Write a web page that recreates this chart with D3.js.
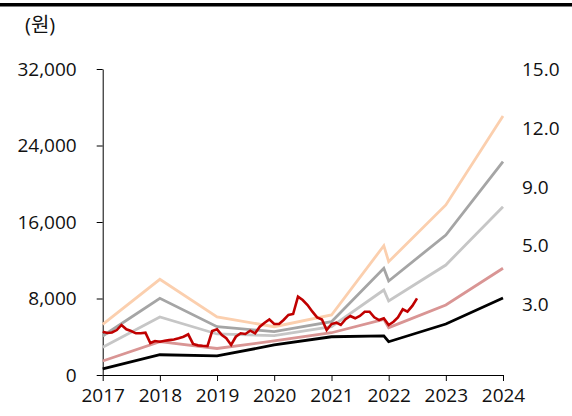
<!DOCTYPE html>
<html><head><meta charset="utf-8">
<script src="https://cdn.jsdelivr.net/npm/d3@7"></script>
<style>body{margin:0;background:#fff} svg{display:block}</style>
</head><body>
<svg id="c" width="572" height="416"></svg>
<script>
// ---- data ----
const yTicks = [0, 8000, 16000, 24000, 32000];
const years = [2017, 2018, 2019, 2020, 2021, 2022, 2023, 2024];
const bandLabels = ["15.0", "12.0", "9.0", "5.0", "3.0"];
const bandDates = ["2017-01", "2018-01", "2019-01", "2020-01", "2021-01", "2021-12", "2022-01", "2023-01", "2024-01"];
const bandA = [5300, 10010, 6070, 5050, 6275, 13520, 11850, 17780, 27090];
const bandB = [4080, 8020, 5050, 4530, 5575, 11160, 9830, 14640, 22310];
const bandC = [2900, 6070, 4290, 4110, 5050, 8890, 7740, 11500, 17600];
const bandD = [1460, 3480, 2770, 3560, 4420, 5820, 4950, 7320, 11160];
const bandE = [630, 2120, 1990, 3140, 4000, 4100, 3480, 5330, 8050];
const priceStart = "2017-01";
const priceValues = [
  4530, 4400, 4450, 4700, 5230, 4780, 4600, 4360, 4360, 4420, 3350, 3550,
  3480, 3590, 3650, 3720, 3850, 4000, 4250, 3250, 3100, 3060, 3030, 4600,
  4780, 4180, 3840, 3140, 4000, 4360, 4290, 4630, 4360, 5050, 5470, 5820,
  5330, 5330, 5750, 6280, 6380, 8190, 7840, 7320, 6620, 6030, 5800, 4710,
  5330, 5470, 5230, 5830, 6170, 5930, 6170, 6620, 6620, 6030, 5750, 5930,
  5230, 5570, 6030, 6870, 6620, 7220, 8020
];

// ---- chart ----
const svg = d3.select("#c");
const font = "'Open Sans','Noto Sans CJK KR',sans-serif";
const parse = d3.timeParse("%Y-%m");
const x = d3.scaleTime().domain([new Date(2017,0,1), new Date(2024,0,1)]).range([102.7, 503]);
const y = d3.scaleLinear().domain([0, 32000]).range([375, 69]);

// top bar
svg.append("rect").attr("x",0).attr("y",3).attr("width",572).attr("height",3.5).attr("fill","#000");

svg.append("text").attr("x",25).attr("y",24).attr("dominant-baseline","central")
  .attr("font-family",font).attr("font-size",20).attr("fill","#111").text("(원)");

const yAxis = svg.append("g").attr("transform","translate(102.7,0)")
  .call(d3.axisLeft(y).tickValues(yTicks).tickFormat(d3.format(",")).tickSize(6).tickSizeOuter(0).tickPadding(20));
yAxis.selectAll("text").attr("font-family",font).attr("font-size",19).attr("fill","#111");
yAxis.selectAll("line,path").attr("stroke","#000");

const xAxis = svg.append("g").attr("transform","translate(0,375)")
  .call(d3.axisBottom(x).tickValues(years.map(v=>new Date(v,0,1))).tickFormat(d3.timeFormat("%Y")).tickSize(6).tickSizeOuter(0).tickPadding(8));
xAxis.selectAll("text").attr("font-family",font).attr("font-size",19).attr("fill","#111");
xAxis.selectAll("line,path").attr("stroke","#000");

const line = d3.line().x(d=>x(d[0])).y(d=>y(d[1]));
const bands = [
  {v: bandA, c: "#FBCFAE"},
  {v: bandB, c: "#A5A5A5"},
  {v: bandC, c: "#C6C6C6"},
  {v: bandD, c: "#D99594"},
  {v: bandE, c: "#000000"}
];
bands.forEach(b => {
  svg.append("path").datum(bandDates.map((d,i)=>[parse(d), b.v[i]]))
    .attr("d", line).attr("fill","none").attr("stroke", b.c).attr("stroke-width", 2.8);
});

const pStart = parse(priceStart);
const priceData = priceValues.map((v,i)=>[d3.timeMonth.offset(pStart, i), v]);
svg.append("path").datum(priceData).attr("d", line).attr("fill","none")
  .attr("stroke","#C00000").attr("stroke-width",2.6);

const ly = d3.scalePoint().domain(bandLabels).range([69, 304]);
svg.append("g").selectAll("text").data(bandLabels).join("text")
  .attr("x",522).attr("y",d=>ly(d)).attr("dominant-baseline","central")
  .attr("font-family",font).attr("font-size",19).attr("fill","#111").text(d=>d);
</script>
</body></html>
